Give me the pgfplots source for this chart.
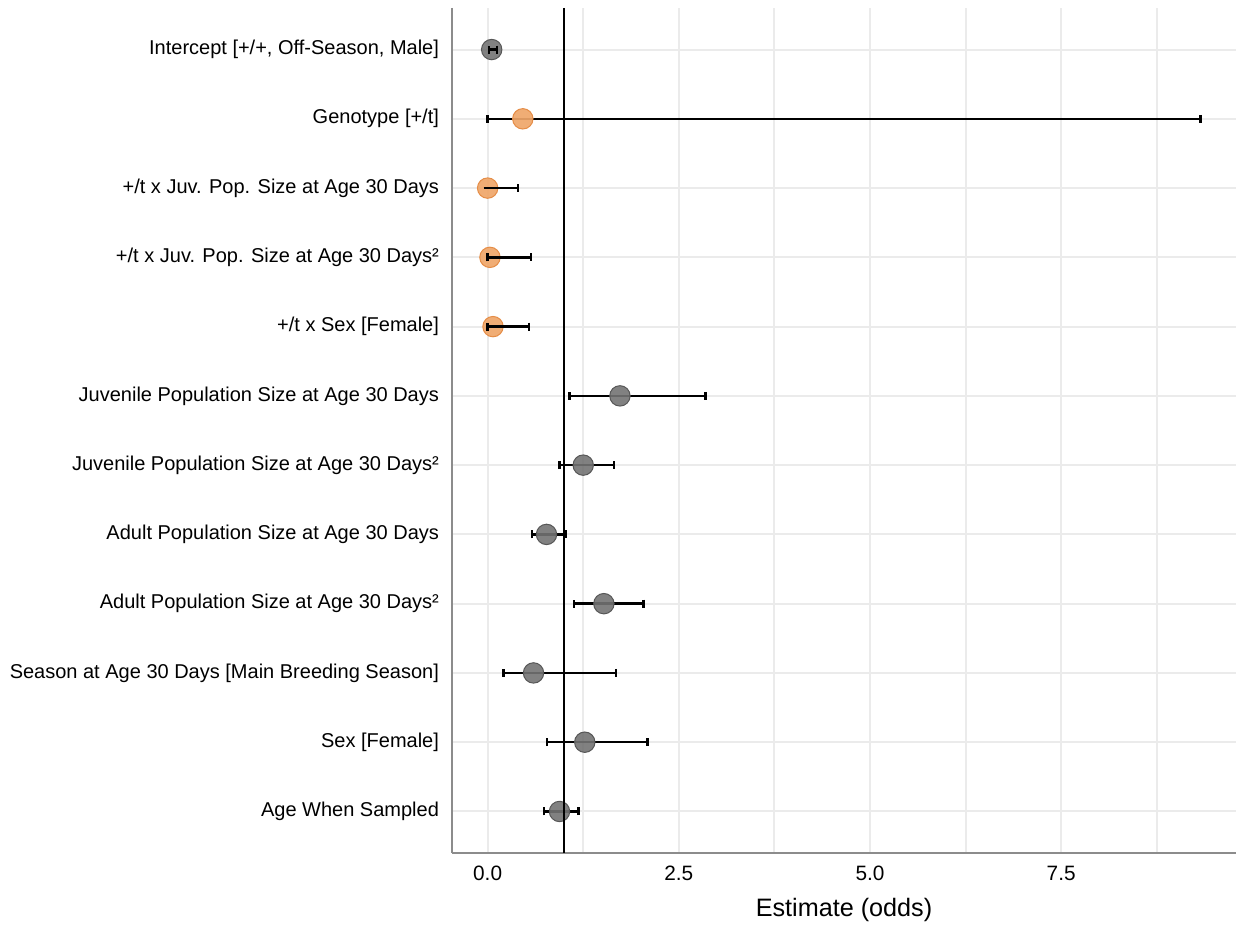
\documentclass[border=0pt]{standalone}
\usepackage{pgfplots}
\pgfplotsset{compat=1.18}
\usepackage{pgfplotstable}
\usepackage{fontspec}
\setmainfont{Liberation Sans}

\definecolor{gridgray}{HTML}{EBEBEB}
\definecolor{spinegray}{HTML}{8C8C8C}
\definecolor{ptgray}{HTML}{737373}
\definecolor{ptgrayedge}{HTML}{575757}
\definecolor{ptorange}{HTML}{EFA669}
\definecolor{ptorangeedge}{HTML}{E58D47}

% row est lo hi
\pgfplotstableread{
row est lo hi
0 0.053 0.017 0.126
1 0.46 0.0 9.32
2 0.0 0.0 0.40
3 0.03 0.0 0.57
4 0.07 0.0 0.54
5 1.73 1.07 2.85
6 1.25 0.94 1.65
7 0.77 0.58 1.02
8 1.52 1.13 2.04
9 0.60 0.21 1.68
10 1.27 0.78 2.09
11 0.94 0.74 1.19
}\estimates

% markers that sit under their bars
\pgfplotstableread{
row est
0 0.053
}\grayunder
\pgfplotstableread{
row est
2 0.0
3 0.03
4 0.07
}\orangeunder
% markers that sit over their bars
\pgfplotstableread{
row est
5 1.73
6 1.25
7 0.77
8 1.52
9 0.60
10 1.27
11 0.94
}\grayover
\pgfplotstableread{
row est
1 0.46
}\orangeover

\begin{document}
\begin{tikzpicture}
\begin{axis}[
    name=main,
    scale only axis,
    width=392pt, height=422.5pt,
    xmin=-0.466, xmax=9.786,
    ymin=-0.6, ymax=11.6,
    y dir=reverse,
    clip marker paths=true,
    axis x line*=bottom, axis y line*=left,
    axis line style={-, draw=spinegray, line width=0.8pt},
    xtick={0,2.5,5,7.5},
    xticklabels={0.0,2.5,5.0,7.5},
    minor xtick={1.25,3.75,6.25,8.75},
    ytick={0,...,11},
    yticklabels={
      {Intercept [+/+, Off-Season, Male]},
      {Genotype [+/t]},
      {+/t x Juv. Pop. Size at Age 30 Days},
      {+/t x Juv. Pop. Size at Age 30 Days²},
      {+/t x Sex [Female]},
      {Juvenile Population Size at Age 30 Days},
      {Juvenile Population Size at Age 30 Days²},
      {Adult Population Size at Age 30 Days},
      {Adult Population Size at Age 30 Days²},
      {Season at Age 30 Days [Main Breeding Season]},
      {Sex [Female]},
      {Age When Sampled}},
    major tick length=0pt, minor tick length=0pt,
    xmajorgrids, xminorgrids, ymajorgrids,
    grid style={gridgray, line width=1pt},
    minor grid style={gridgray, line width=1pt},
    tick label style={font=\fontsize{10}{12}\selectfont},
    xticklabel style={font=\fontsize{10.4}{12}\selectfont, yshift=-3pt},
    /pgf/number format/assume math mode=true,
    yticklabel style={xshift=-3pt},
    xlabel={Estimate (odds)},
    xlabel style={font=\fontsize{12.6}{15}\selectfont, yshift=-2pt},
    gray marker/.style={only marks, mark=*, mark size=5.1pt,
      mark options={fill=ptgray, draw=ptgrayedge, line width=0.5pt, fill opacity=0.9}},
    orange marker/.style={only marks, mark=*, mark size=5.1pt,
      mark options={fill=ptorange, draw=ptorangeedge, line width=0.5pt, fill opacity=0.92}},
]
\addplot[gray marker] table[x=est, y=row] {\grayunder};
\addplot[orange marker] table[x=est, y=row] {\orangeunder};
% confidence intervals
\addplot[draw=none, mark=none,
    error bars/.cd, x dir=both, x explicit,
    error bar style={black, line width=1.2pt},
    error mark options={rotate=90, black, line width=1.2pt, mark size=2pt}]
  table[x=est, y=row,
    x error plus expr=\thisrow{hi}-\thisrow{est},
    x error minus expr=\thisrow{est}-\thisrow{lo}] {\estimates};
\addplot[gray marker] table[x=est, y=row] {\grayover};
\addplot[orange marker] table[x=est, y=row] {\orangeover};
% reference line at odds = 1
\addplot[black, line width=1.1pt, mark=none] coordinates {(1,-0.6) (1,11.6)};
\end{axis}
\pgfresetboundingbox
\path[use as bounding box] ([xshift=-226pt, yshift=-35.5pt]main.south west) rectangle ([yshift=4pt]main.north east);
\end{tikzpicture}
\end{document}
